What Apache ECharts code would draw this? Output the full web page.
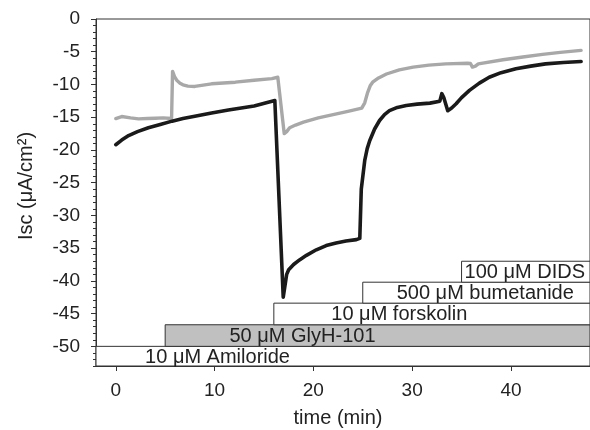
<!DOCTYPE html>
<html>
<head>
<meta charset="utf-8">
<script src="https://cdn.jsdelivr.net/npm/echarts@6/dist/echarts.min.js"></script>
<style>
html,body{margin:0;padding:0;background:#fff;}
#chart{width:590px;height:430px;}
</style>
</head>
<body>
<div id="chart"></div>
<script>
// ---- data ----
const grayTime = [0, 0.6, 1.5, 2.3, 3.2, 4.0, 4.8, 5.65, 5.75, 5.95, 6.2, 6.5, 6.8, 7.3, 8.0, 9.7, 12.1, 14.0, 15.8, 16.4, 17.05, 17.3, 17.6, 18.2, 19.0, 20.5, 22.0, 23.5, 24.9, 25.2, 25.5, 25.75, 26.0, 26.6, 27.4, 28.7, 30.1, 31.7, 33.4, 35.6, 35.9, 36.1, 36.4, 36.7, 39.2, 41.2, 43.2, 45.0, 47.1];
const grayIsc  = [-15.2, -14.9, -15.1, -15.25, -15.2, -15.15, -15.1, -15.2, -8.0, -8.8, -9.4, -9.8, -10.05, -10.25, -10.3, -9.9, -9.65, -9.35, -9.1, -8.9, -17.5, -17.2, -16.6, -16.2, -15.75, -15.1, -14.6, -14.1, -13.6, -12.8, -11.2, -10.2, -9.65, -9.0, -8.4, -7.76, -7.35, -7.05, -6.85, -6.75, -6.8, -7.35, -7.2, -6.85, -6.23, -5.8, -5.4, -5.1, -4.8];

const blackTime = [0, 0.6, 1.3, 2.2, 3.3, 4.5, 5.7, 6.8, 8.0, 9.7, 11.4, 14.0, 16.1, 16.3, 16.95, 17.1, 17.3, 17.5, 18.0, 18.6, 19.3, 20.3, 21.3, 22.3, 23.3, 24.35, 24.7, 24.85, 25.2, 25.45, 25.7, 26.2, 26.7, 27.2, 27.7, 28.5, 29.4, 30.5, 31.8, 32.8, 33.0, 33.2, 33.6, 34.0, 34.45, 35.0, 35.8, 36.8, 37.8, 39.0, 40.5, 42.0, 43.5, 45.3, 47.1];
const blackIsc  = [-19.2, -18.5, -17.8, -17.2, -16.6, -16.1, -15.6, -15.2, -14.85, -14.35, -13.9, -13.3, -12.45, -12.3, -42.5, -41.0, -39.0, -38.3, -37.5, -36.8, -36.1, -35.25, -34.6, -34.2, -33.9, -33.7, -33.5, -26.0, -21.6, -19.8, -18.6, -16.8, -15.5, -14.6, -14.0, -13.5, -13.2, -13.0, -12.85, -12.55, -11.4, -12.0, -14.0, -13.6, -12.95, -12.0, -10.9, -9.8, -8.9, -8.2, -7.6, -7.2, -6.85, -6.65, -6.5];

const drugNames  = ['10 \u03bcM Amiloride', '50 \u03bcM GlyH-101', '10 \u03bcM forskolin', '500 \u03bcM bumetanide', '100 \u03bcM DIDS'];
const drugStart  = [-2, 5, 16, 25, 35];
const drugBottom = [-53, -50, -46.7, -43.4, -40.2];
const drugTop    = [-50, -46.7, -43.4, -40.2, -37];

const xTicks = [0, 10, 20, 30, 40];
const yTicks = [0, -5, -10, -15, -20, -25, -30, -35, -40, -45, -50];

// ---- layout / style constants ----
const X_MIN = -2, X_MAX = 48, Y_MIN = -53, Y_MAX = 0;
const drugLabelX = [10.3, 18.9, 28.7, 37.4, 41.4];
const drugFill = ['#ffffff', '#c0c0c0', '#ffffff', '#ffffff', '#ffffff'];
const FONT = '"Liberation Sans", Arial, Helvetica, sans-serif';
const AXIS_COLOR = '#333333';
const TEXT_COLOR = '#222222';

const zip = (a, b) => a.map((v, i) => [v, b[i]]);

const chart = echarts.init(document.getElementById('chart'), null, {renderer: 'canvas'});

const option = {
  animation: false,
  backgroundColor: '#ffffff',
  grid: {
    left: 96, top: 19, width: 495, height: 347,
    show: true, borderColor: AXIS_COLOR, borderWidth: 1, backgroundColor: 'transparent'
  },
  xAxis: {
    type: 'value', min: X_MIN, max: X_MAX,
    axisLine: {show: true, onZero: false, lineStyle: {color: AXIS_COLOR, width: 1}},
    axisTick: {show: true, length: 5, inside: false, customValues: xTicks, lineStyle: {color: AXIS_COLOR}},
    axisLabel: {customValues: xTicks, margin: 15, fontSize: 19, fontFamily: FONT, color: TEXT_COLOR},
    splitLine: {show: false}
  },
  yAxis: [
    {
      type: 'value', min: Y_MIN, max: Y_MAX, interval: 1,
      axisLine: {show: true, onZero: false, lineStyle: {color: AXIS_COLOR, width: 1}},
      axisTick: {show: true, length: 3, lineStyle: {color: AXIS_COLOR}},
      axisLabel: {show: false},
      splitLine: {show: false}
    },
    {
      type: 'value', min: Y_MIN, max: Y_MAX, position: 'left', offset: 0,
      axisLine: {show: false, onZero: false},
      axisTick: {show: true, length: 5, customValues: yTicks, lineStyle: {color: AXIS_COLOR}},
      axisLabel: {customValues: yTicks, margin: 16, fontSize: 19, fontFamily: FONT, color: TEXT_COLOR},
      splitLine: {show: false}
    }
  ],
  graphic: [
    {type: 'text', x: 338, y: 418, style: {text: 'time (min)', font: '20px ' + FONT, fill: TEXT_COLOR, align: 'center', verticalAlign: 'middle'}},
    {type: 'text', x: 26, y: 186, rotation: Math.PI / 2, style: {text: 'Isc (\u03bcA/cm\u00b2)', font: '20px ' + FONT, fill: TEXT_COLOR, align: 'center', verticalAlign: 'middle'}}
  ],
  series: [
    {
      type: 'line', name: 'gray', data: zip(grayTime, grayIsc), showSymbol: false, smooth: false,
      lineStyle: {color: '#a8a8a8', width: 3.4, join: 'round', cap: 'round'}, z: 3
    },
    {
      type: 'line', name: 'black', data: zip(blackTime, blackIsc), showSymbol: false, smooth: false,
      lineStyle: {color: '#1a1a1a', width: 3.6, join: 'round', cap: 'round'}, z: 4
    },
    {
      type: 'custom', name: 'drugs', z: 5, clip: false,
      data: drugNames.map((n, i) => [drugStart[i], drugBottom[i], drugTop[i], i]),
      renderItem: function (params, api) {
        const i = api.value(3);
        const p0 = api.coord([api.value(0), api.value(2)]);
        const p1 = api.coord([X_MAX, api.value(1)]);
        const cy = (p0[1] + p1[1]) / 2 + 1;
        const tx = api.coord([drugLabelX[i], 0])[0];
        return {
          type: 'group',
          children: [
            {type: 'rect', shape: {x: p0[0], y: p0[1], width: p1[0] - p0[0], height: p1[1] - p0[1]},
             style: {fill: drugFill[i], stroke: AXIS_COLOR, lineWidth: 1}},
            {type: 'text', x: tx, y: cy,
             style: {text: drugNames[i], font: '20px ' + FONT, fill: TEXT_COLOR, align: 'center', verticalAlign: 'middle'}}
          ]
        };
      }
    }
  ]
};
chart.setOption(option);
</script>
</body>
</html>
